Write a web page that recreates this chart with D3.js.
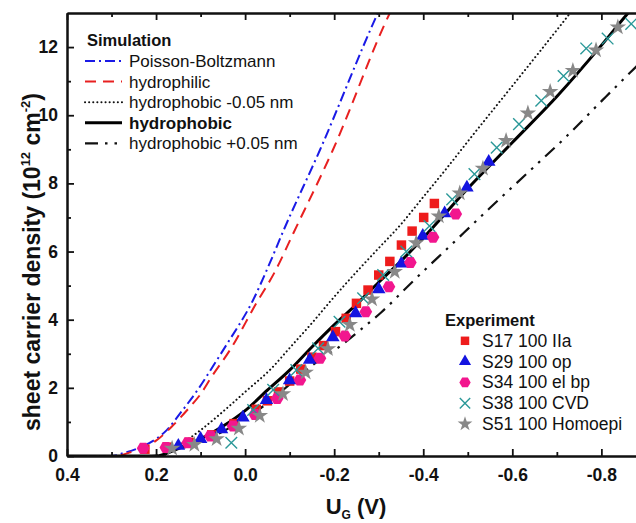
<!DOCTYPE html>
<html>
<head>
<meta charset="utf-8">
<script src="https://cdn.jsdelivr.net/npm/d3@7/dist/d3.min.js"></script>
<style>
body { margin: 0; background: #fff; }
svg text { font-family: "Liberation Sans", Arial, sans-serif; fill: #111; }
</style>
</head>
<body>
<svg id="chart" width="636" height="523"></svg>
<script>
// axis ticks
var xMajor = [0.4, 0.2, 0.0, -0.2, -0.4, -0.6, -0.8];
var xMinor = [0.3, 0.1, -0.1, -0.3, -0.5, -0.7];
var yMajor = [0, 2, 4, 6, 8, 10, 12];
var yMinor = [1, 3, 5, 7, 9, 11];

// simulation curves, [U_G, n]
var simPB = [[0.4,0],[0.3,0],[0.27,0.1],[0.24,0.23],[0.2,0.5],[0.176,0.76],[0.143,1.3],[0.105,1.97],[0.068,2.72],[0.042,3.26],[-0.018,4.58],[-0.055,5.65],[-0.085,6.58],[-0.168,8.98],[-0.298,13.0],[-0.33,13.9]];
var simPhilic = [[0.4,0],[0.29,0],[0.26,0.1],[0.229,0.25],[0.2,0.45],[0.165,0.86],[0.12,1.5],[0.102,1.78],[0.075,2.33],[0.034,3.11],[-0.025,4.48],[-0.067,5.41],[-0.108,6.53],[-0.197,8.98],[-0.325,13.0],[-0.36,13.9]];
var simMinus = [[0.4,0],[0.19,0],[0.15,0.3],[0.1,0.76],[0.05,1.3],[0,1.88],[-0.059,2.57],[-0.1,3.17],[-0.15,3.9],[-0.2,4.67],[-0.25,5.4],[-0.3,6.1],[-0.35,6.8],[-0.4,7.6],[-0.45,8.4],[-0.5,9.23],[-0.6,10.86],[-0.7,12.5],[-0.76,13.5]];
var simPhobic = [[0.4,0],[0.2,0],[0.15,0.22],[0.1,0.5],[0.05,0.87],[0,1.33],[-0.05,1.93],[-0.1,2.52],[-0.15,3.2],[-0.2,3.85],[-0.25,4.45],[-0.3,5.1],[-0.35,5.72],[-0.4,6.4],[-0.5,7.85],[-0.6,9.2],[-0.7,10.55],[-0.8,12.05],[-0.86,13.0],[-0.9,13.6]];
var simPlus = [[0.4,0],[0.21,0],[0.15,0.2],[0.1,0.42],[0.05,0.72],[0,1.1],[-0.05,1.55],[-0.1,2.1],[-0.153,2.68],[-0.212,3.21],[-0.257,3.68],[-0.306,4.22],[-0.377,5.13],[-0.463,6.2],[-0.549,7.27],[-0.631,8.27],[-0.721,9.37],[-0.803,10.45],[-0.863,11.23],[-0.9,11.7]];

// experiment points, [U_G, n]
var s17 = [[0.225,0.2],[0.175,0.26],[0.125,0.4],[0.075,0.62],[0.025,0.95],[-0.025,1.37],[-0.05,1.62],[-0.075,1.88],[-0.1,2.2],[-0.125,2.55],[-0.15,2.9],[-0.176,3.24],[-0.203,3.65],[-0.227,4.04],[-0.25,4.48],[-0.276,4.87],[-0.3,5.31],[-0.325,5.71],[-0.351,6.19],[-0.375,6.6],[-0.401,7.0],[-0.425,7.41]];
var s29 = [[0.15,0.3],[0.1,0.5],[0.053,0.78],[0.005,1.13],[-0.048,1.64],[-0.1,2.22],[-0.145,2.82],[-0.197,3.48],[-0.248,4.19],[-0.3,4.89],[-0.351,5.65],[-0.399,6.46],[-0.448,7.12],[-0.498,7.88],[-0.547,8.63]];
var s34 = [[0.229,0.23],[0.178,0.25],[0.129,0.39],[0.078,0.59],[0.027,0.88],[-0.022,1.22],[-0.072,1.69],[-0.123,2.23],[-0.168,2.87],[-0.224,3.52],[-0.271,4.23],[-0.323,4.97],[-0.371,5.68],[-0.422,6.42],[-0.473,7.1]];
var s38 = [[0.031,0.39],[-0.018,1.35],[-0.063,1.94],[-0.115,2.52],[-0.164,3.16],[-0.212,3.94],[-0.265,4.63],[-0.31,5.31],[-0.362,6.0],[-0.414,6.75],[-0.465,7.53],[-0.515,8.27],[-0.565,9.05],[-0.615,9.74],[-0.665,10.43],[-0.715,11.15],[-0.766,11.96],[-0.814,12.25],[-0.867,12.68]];
var s51 = [[0.164,0.22],[0.114,0.33],[0.064,0.5],[0.014,0.81],[-0.033,1.18],[-0.085,1.82],[-0.136,2.45],[-0.186,3.14],[-0.235,3.85],[-0.285,4.6],[-0.336,5.41],[-0.384,6.25],[-0.435,7.04],[-0.482,7.71],[-0.534,8.44],[-0.586,9.25],[-0.635,10.06],[-0.685,10.69],[-0.736,11.31],[-0.788,11.91],[-0.837,12.58]];

var simNames = ['Poisson-Boltzmann', 'hydrophilic', 'hydrophobic -0.05 nm', 'hydrophobic', 'hydrophobic +0.05 nm'];
var expNames = ['S17 100 IIa', 'S29 100 op', 'S34 100 el bp', 'S38 100 CVD', 'S51 100 Homoepi'];

var svg = d3.select('#chart');
// plot box (right edge runs past the window like in the original)
var plotLeft = 67, plotTop = 13, plotBottom = 456, plotRight = 637;

var x = d3.scaleLinear().domain([0.4, -0.88]).range([plotLeft, plotRight]);
var y = d3.scaleLinear().domain([0, 13]).range([plotBottom, plotTop]);

var hexagon = {
  draw: function(ctx, size) {
    var r = Math.sqrt(size / (1.5 * Math.sqrt(3)));
    for (var i = 0; i < 6; i++) {
      var a = Math.PI / 3 * i + Math.PI / 6;
      if (i === 0) ctx.moveTo(r * Math.sin(a), -r * Math.cos(a));
      else ctx.lineTo(r * Math.sin(a), -r * Math.cos(a));
    }
    ctx.closePath();
  }
};

var sims = [
  {data: simPB, color: '#1a1ae6', width: 2, dash: '10,4,2,4', cap: 'butt'},
  {data: simPhilic, color: '#e82020', width: 2, dash: '11,7', cap: 'butt'},
  {data: simMinus, color: '#111', width: 2, dash: '0.1,4', cap: 'round'},
  {data: simPhobic, color: '#000', width: 3, dash: null, cap: 'butt'},
  {data: simPlus, color: '#111', width: 2.2, dash: '13,7,2.5,7,2.5,7', cap: 'butt'}
];

var exps = [
  {data: s17, type: d3.symbolSquare, size: 90, fill: '#ee1c1c', stroke: 'none'},
  {data: s29, type: d3.symbolTriangle, size: 80, fill: '#1414e0', stroke: 'none'},
  {data: s34, type: hexagon, size: 105, fill: '#f2168e', stroke: 'none'},
  {data: s38, type: d3.symbolTimes, size: 90, fill: 'none', stroke: '#2a9898'},
  {data: s51, type: d3.symbolStar, size: 85, fill: '#888', stroke: 'none'}
];

svg.append('clipPath').attr('id', 'plotclip')
  .append('rect').attr('x', plotLeft).attr('y', plotTop)
  .attr('width', plotRight - plotLeft).attr('height', plotBottom - plotTop);

var line = d3.line()
  .x(function(d) { return x(d[0]); })
  .y(function(d) { return y(d[1]); })
  .curve(d3.curveMonotoneX);

var plot = svg.append('g').attr('clip-path', 'url(#plotclip)');

sims.forEach(function(s) {
  plot.append('path')
    .datum(s.data)
    .attr('d', line)
    .attr('fill', 'none')
    .attr('stroke', s.color)
    .attr('stroke-width', s.width)
    .attr('stroke-dasharray', s.dash)
    .attr('stroke-linecap', s.cap);
});

exps.forEach(function(e) {
  var sym = d3.symbol().type(e.type).size(e.size);
  svg.append('g').selectAll('path')
    .data(e.data)
    .enter().append('path')
    .attr('transform', function(d) { return 'translate(' + x(d[0]) + ',' + y(d[1]) + ')'; })
    .attr('d', sym)
    .attr('fill', e.fill)
    .attr('stroke', e.stroke)
    .attr('stroke-width', 1.4);
});

// axes, ticks pointing inward
function fmtX(d) { return d.toFixed(1); }

svg.append('g').attr('transform', 'translate(0,' + plotBottom + ')')
  .call(d3.axisBottom(x).tickValues(xMinor).tickSize(-4).tickSizeOuter(0).tickFormat(''));
svg.append('g').attr('transform', 'translate(0,' + plotTop + ')')
  .call(d3.axisTop(x).tickValues(xMinor).tickSize(-4).tickSizeOuter(0).tickFormat(''));
svg.append('g').attr('transform', 'translate(0,' + plotTop + ')')
  .call(d3.axisTop(x).tickValues(xMajor).tickSize(-7).tickSizeOuter(0).tickFormat(''));
svg.append('g').attr('class', 'xaxis').attr('transform', 'translate(0,' + plotBottom + ')')
  .call(d3.axisBottom(x).tickValues(xMajor).tickSize(-7).tickSizeOuter(0).tickPadding(13).tickFormat(fmtX));

svg.append('g').attr('transform', 'translate(' + plotLeft + ',0)')
  .call(d3.axisLeft(y).tickValues(yMinor).tickSize(-4).tickSizeOuter(0).tickFormat(''));
svg.append('g').attr('class', 'yaxis').attr('transform', 'translate(' + plotLeft + ',0)')
  .call(d3.axisLeft(y).tickValues(yMajor).tickSize(-7).tickSizeOuter(0).tickPadding(9));

svg.selectAll('.domain').attr('stroke', '#111').attr('stroke-width', 2);
svg.selectAll('.tick line').attr('stroke', '#111').attr('stroke-width', 1.8);
svg.selectAll('.xaxis text, .yaxis text')
  .attr('font-size', 17.5).attr('font-weight', 'bold').attr('fill', '#111')
  .style('font-family', '"Liberation Sans", Arial, sans-serif');

// axis titles
var yt = svg.append('text')
  .attr('transform', 'translate(40,262) rotate(-90)')
  .attr('text-anchor', 'middle')
  .attr('font-size', 23).attr('font-weight', 'bold');
yt.append('tspan').text('sheet carrier density (10');
yt.append('tspan').attr('font-size', 13).attr('dy', -10).text('12');
yt.append('tspan').attr('dy', 10).text(' cm');
yt.append('tspan').attr('font-size', 13).attr('dy', -10).text('-2');
yt.append('tspan').attr('dy', 10).text(')');

var xt = svg.append('text')
  .attr('x', 356).attr('y', 514)
  .attr('text-anchor', 'middle')
  .attr('font-size', 22).attr('font-weight', 'bold');
xt.append('tspan').text('U');
xt.append('tspan').attr('font-size', 12).attr('dy', 5).text('G');
xt.append('tspan').attr('dy', -5).text(' (V)');

// simulation legend
var leg1 = svg.append('g').attr('transform', 'translate(85,40)');
leg1.append('text').attr('x', 2).attr('y', 6).attr('font-size', 16.5).attr('font-weight', 'bold').text('Simulation');
sims.forEach(function(s, i) {
  var ly = 21 + i * 20.6;
  leg1.append('line')
    .attr('x1', 0).attr('x2', 37).attr('y1', ly).attr('y2', ly)
    .attr('stroke', s.color).attr('stroke-width', s.width)
    .attr('stroke-dasharray', s.dash).attr('stroke-linecap', s.cap);
  leg1.append('text')
    .attr('x', 44).attr('y', ly + 6)
    .attr('font-size', 17)
    .attr('font-weight', i === 3 ? 'bold' : 'normal')
    .text(simNames[i]);
});

// experiment legend
var leg2 = svg.append('g').attr('transform', 'translate(445,320)');
leg2.append('text').attr('x', 0).attr('y', 6).attr('font-size', 16.5).attr('font-weight', 'bold').text('Experiment');
exps.forEach(function(e, i) {
  var ly = 20.8 + i * 20.8;
  leg2.append('path')
    .attr('transform', 'translate(20,' + ly + ')')
    .attr('d', d3.symbol().type(e.type).size(e.size * 0.8)())
    .attr('fill', e.fill).attr('stroke', e.stroke).attr('stroke-width', 1.4);
  leg2.append('text')
    .attr('x', 37).attr('y', ly + 6)
    .attr('font-size', 17.5)
    .text(expNames[i]);
});
</script>
</body>
</html>
